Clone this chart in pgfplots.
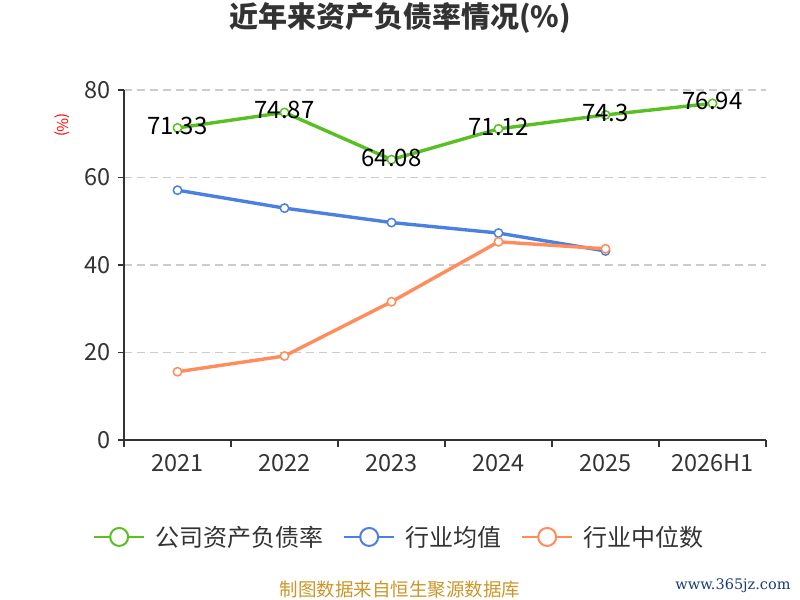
\documentclass[border=0pt]{standalone}
\usepackage{pgfplots}
\pgfplotsset{compat=1.18}
\usepackage{fontspec}
\setmainfont{Noto Sans CJK SC}
\newfontfamily\wmfont{DejaVu Serif}
\definecolor{cgreen}{RGB}{88,192,34}
\definecolor{cblue}{RGB}{74,128,224}
\definecolor{corange}{RGB}{255,140,90}
\definecolor{ctext}{RGB}{51,51,51}
\definecolor{cgold}{RGB}{204,150,40}
\definecolor{cwm}{RGB}{26,58,122}
\begin{document}
\begin{tikzpicture}[x=1bp,y=1bp]
\path[use as bounding box] (0,0) rectangle (800,600);
\begin{axis}[
  at={(124bp,160bp)}, anchor=south west,
  scale only axis, width=642bp, height=350bp,
  xmin=-0.5, xmax=5.5, ymin=0, ymax=80,
  axis x line*=bottom, axis y line*=left,
  axis line style={ctext, line width=1.2bp},
  xtick={0,1,2,3,4,5},
  xticklabels={2021,2022,2023,2024,2025,2026H1},
  minor xtick={-0.5,0.5,1.5,2.5,3.5,4.5,5.5},
  ytick={0,20,40,60,80},
  tick align=outside,
  major tick length=6bp, minor tick length=7bp,
  x tick style={draw=none},
  minor x tick style={draw=ctext, line width=1.2bp},
  y tick style={ctext, line width=1.2bp},
  ymajorgrids,
  grid style={dash pattern=on 8bp off 5bp, gray!40, line width=1.4bp},
  /pgf/number format/assume math mode=true,
  tick label style={font=\fontsize{23.5bp}{26bp}\selectfont, text=ctext},
  xticklabel style={yshift=-5bp},
  yticklabel style={xshift=-4bp},
  ylabel={(\%)},
  ylabel style={at={(axis description cs:-0.0966,0.9)}, anchor=center, rotate=180, font=\fontsize{15bp}{17bp}\selectfont, text=red},
  title={\bfseries 近年来资产负债率情况(\%)},
  title style={at={(axis description cs:0.43,1.189)}, anchor=center, font=\fontsize{29bp}{33bp}\selectfont, text=ctext},
  legend style={at={(axis description cs:0.4286,-0.277)}, anchor=center, draw=none, fill=none,
    font=\fontsize{24bp}{27bp}\selectfont, text=ctext,
    /tikz/every odd column/.append style={column sep=8bp},
    /tikz/every even column/.append style={column sep=18bp}},
  legend columns=3,
  clip=false,
]
\addplot[cgreen, line width=3.4bp, mark=*, mark size=4.2bp,
  mark options={fill=white, draw=cgreen, line width=1.5bp},
  nodes near coords, point meta=explicit symbolic,
  every node near coord/.style={anchor=center, yshift=2bp, text=black, font=\fontsize{24bp}{28bp}\selectfont},
  legend image code/.code={\draw[cgreen,line width=2bp] (0bp,0bp) -- (50bp,0bp); \draw[cgreen,fill=white,line width=2bp] (25bp,0bp) circle (9bp);}]
  coordinates {(0,71.33)[71.33] (1,74.87)[74.87] (2,64.08)[64.08] (3,71.12)[71.12] (4,74.3)[74.3] (5,76.94)[76.94]};
\addlegendentry{公司资产负债率}
\addplot[cblue, line width=3.4bp, mark=*, mark size=4.2bp,
  mark options={fill=white, draw=cblue, line width=1.5bp},
  legend image code/.code={\draw[cblue,line width=2bp] (0bp,0bp) -- (50bp,0bp); \draw[cblue,fill=white,line width=2bp] (25bp,0bp) circle (9bp);}]
  coordinates {(0,57.1) (1,53.0) (2,49.7) (3,47.3) (4,43.2)};
\addlegendentry{行业均值}
\addplot[corange, line width=3.4bp, mark=*, mark size=4.2bp,
  mark options={fill=white, draw=corange, line width=1.5bp},
  legend image code/.code={\draw[corange,line width=2bp] (0bp,0bp) -- (50bp,0bp); \draw[corange,fill=white,line width=2bp] (25bp,0bp) circle (9bp);}]
  coordinates {(0,15.6) (1,19.2) (2,31.6) (3,45.3) (4,43.7)};
\addlegendentry{行业中位数}
\end{axis}
\node[text=cgold, font=\fontsize{18.5bp}{22bp}\selectfont] at (400,10) {制图数据来自恒生聚源数据库};
\node[text=cwm, font=\wmfont\fontsize{14.5bp}{18bp}\selectfont] at (733,14) {www.365jz.com};
\end{tikzpicture}
\end{document}
